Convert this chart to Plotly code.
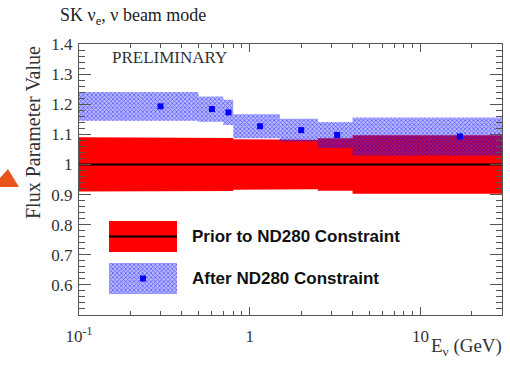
import plotly.graph_objects as go

# ---------------- data ----------------
bin_edges = [0.1, 0.5, 0.7, 0.8, 1.5, 2.5, 4.0, 30.0]          # E_nu (GeV)
prior_value = [1.0, 1.0, 1.0, 1.0, 1.0, 1.0, 1.0]
prior_err = [0.090, 0.090, 0.088, 0.084, 0.082, 0.087, 0.097]
post_value = [1.193, 1.184, 1.173, 1.127, 1.114, 1.098, 1.093]
post_err = [0.048, 0.042, 0.042, 0.040, 0.038, 0.043, 0.063]

y_tick_vals = [0.6, 0.7, 0.8, 0.9, 1.0, 1.1, 1.2, 1.3, 1.4]
y_tick_text = ["0.6", "0.7", "0.8", "0.9", "1", "1.1", "1.2", "1.3", "1.4"]
x_tick_vals = [0.1, 1, 10]
x_tick_text = ["10<sup>-1</sup>", "1", "10"]
x_minor_vals = [0.2, 0.3, 0.4, 0.5, 0.6, 0.7, 0.8, 0.9,
                2, 3, 4, 5, 6, 7, 8, 9, 20, 30]

legend_labels = ["Prior to ND280 Constraint", "After ND280 Constraint"]
title_text = "SK \u03bd<sub>e</sub>, \u03bd beam mode"

# ---------------- geometry helpers (styling) ----------------
W, H = 510, 369
ML, MR, MT, MB = 79, 8, 44, 54
PW, PH = W - ML - MR, H - MT - MB


def px(x):
    return (x - ML) / PW


def py(y):
    return (H - MB - y) / PH


def step_band(edges, centers, errs):
    xs, ys = [], []
    n = len(centers)
    for i in range(n):
        xs += [edges[i], edges[i + 1]]
        ys += [centers[i] + errs[i]] * 2
    for i in reversed(range(n)):
        xs += [edges[i + 1], edges[i]]
        ys += [centers[i] - errs[i]] * 2
    xs.append(xs[0])
    ys.append(ys[0])
    return xs, ys


SERIF = "Liberation Serif, Times New Roman, serif"
SANS = "Liberation Sans, Arial, sans-serif"
AXC = "#555555"
HATCH = dict(shape="x", fgcolor="#0000ff", bgcolor="rgba(40,40,255,0.33)",
             size=3, solidity=0.45)

fig = go.Figure()

# prior band
bx, by = step_band(bin_edges, prior_value, prior_err)
fig.add_trace(go.Scatter(x=bx, y=by, mode="lines", fill="toself",
                         fillcolor="#ff0000", line=dict(width=0),
                         hoverinfo="skip", showlegend=False))
# prior central line
fig.add_trace(go.Scatter(x=bin_edges, y=prior_value + [prior_value[-1]],
                         mode="lines", line=dict(color="black", width=2, shape="hv"),
                         showlegend=False))
# post band
ax_, ay_ = step_band(bin_edges, post_value, post_err)
fig.add_trace(go.Scatter(x=ax_, y=ay_, mode="lines", fill="toself",
                         fillcolor="rgba(40,40,255,0.33)", fillpattern=HATCH,
                         line=dict(width=0), hoverinfo="skip", showlegend=False))
# post points
centers = [(bin_edges[i] + bin_edges[i + 1]) / 2 for i in range(len(post_value))]
fig.add_trace(go.Scatter(x=centers, y=post_value, mode="markers",
                         marker=dict(symbol="square", size=6, color="#0000ff"),
                         showlegend=False))

# ---------------- manual legend (overlay axes in 0..1 plot units) ----------------
lx0, lx1 = px(109), px(177)
r_y0, r_y1 = py(252), py(221)
b_y0, b_y1 = py(294), py(263)
fig.add_trace(go.Scatter(x=[lx0, lx1, lx1, lx0, lx0], y=[r_y0, r_y0, r_y1, r_y1, r_y0],
                         xaxis="x2", yaxis="y2", mode="lines", fill="toself",
                         fillcolor="#ff0000", line=dict(width=0), showlegend=False,
                         hoverinfo="skip"))
fig.add_trace(go.Scatter(x=[lx0, lx1], y=[(r_y0 + r_y1) / 2] * 2, xaxis="x2", yaxis="y2",
                         mode="lines", line=dict(color="black", width=2),
                         showlegend=False, hoverinfo="skip"))
fig.add_trace(go.Scatter(x=[lx0, lx1, lx1, lx0, lx0], y=[b_y0, b_y0, b_y1, b_y1, b_y0],
                         xaxis="x2", yaxis="y2", mode="lines", fill="toself",
                         fillcolor="rgba(40,40,255,0.33)", fillpattern=HATCH,
                         line=dict(width=0), showlegend=False, hoverinfo="skip"))
fig.add_trace(go.Scatter(x=[(lx0 + lx1) / 2], y=[(b_y0 + b_y1) / 2], xaxis="x2", yaxis="y2",
                         mode="markers", marker=dict(symbol="square", size=6, color="#0000ff"),
                         showlegend=False, hoverinfo="skip"))

annotations = [
    dict(text="<b>" + legend_labels[0] + "</b>", x=px(190), y=(r_y0 + r_y1) / 2,
         xref="paper", yref="paper", xanchor="left", yanchor="middle", showarrow=False,
         font=dict(family=SANS, size=17, color="#111111")),
    dict(text="<b>" + legend_labels[1] + "</b>", x=px(190), y=(b_y0 + b_y1) / 2,
         xref="paper", yref="paper", xanchor="left", yanchor="middle", showarrow=False,
         font=dict(family=SANS, size=17, color="#111111")),
    dict(text="PRELIMINARY", x=px(110), y=py(58), xref="paper", yref="paper",
         xanchor="left", yanchor="middle", showarrow=False,
         font=dict(family=SERIF, size=17, color="#333333")),
    dict(text=title_text, x=px(58), y=py(16), xref="paper", yref="paper",
         xanchor="left", yanchor="middle", showarrow=False,
         font=dict(family=SERIF, size=18, color="#222222")),
    dict(text="Flux Parameter Value", x=px(33), y=py(133), xref="paper", yref="paper",
         xanchor="center", yanchor="middle", textangle=-90, showarrow=False,
         font=dict(family=SERIF, size=20, color="#333333")),
    dict(text="E<sub>\u03bd</sub> (GeV)", x=px(504), y=py(347), xref="paper", yref="paper",
         xanchor="right", yanchor="middle", showarrow=False,
         font=dict(family=SERIF, size=19, color="#333333")),
]

# decorative orange triangle at left edge of slide
tri = [(0, 187), (19, 187), (8, 169), (0, 178)]
path = "M " + " L ".join(f"{px(a):.4f},{py(b):.4f}" for a, b in tri) + " Z"
shapes = [dict(type="path", path=path, xref="paper", yref="paper",
               fillcolor="#e8561e", line=dict(width=0), layer="above")]

fig.update_layout(
    width=W, height=H,
    margin=dict(l=ML, r=MR, t=MT, b=MB, pad=0),
    paper_bgcolor="white", plot_bgcolor="white",
    showlegend=False,
    annotations=annotations,
    shapes=shapes,
    xaxis=dict(type="log", range=[-1, 1.4771], tickmode="array",
               tickvals=x_tick_vals, ticktext=x_tick_text,
               ticks="inside", ticklen=8, tickcolor=AXC, tickwidth=1,
               showline=True, linecolor=AXC, linewidth=1, mirror="ticks",
               showgrid=False, zeroline=False, ticklabelstandoff=6,
               tickfont=dict(family=SERIF, size=17, color="#333333"),
               minor=dict(tickmode="array", tickvals=x_minor_vals, ticks="inside",
                          ticklen=4, tickcolor=AXC, showgrid=False)),
    yaxis=dict(range=[0.5, 1.4], tickmode="array",
               tickvals=y_tick_vals, ticktext=y_tick_text,
               ticks="inside", ticklen=12, tickcolor=AXC, tickwidth=1,
               showline=True, linecolor=AXC, linewidth=1, mirror="ticks",
               showgrid=False, zeroline=False, ticklabelstandoff=2,
               tickfont=dict(family=SERIF, size=17, color="#333333"),
               minor=dict(dtick=0.02, tick0=0.5, ticks="inside", ticklen=6,
                          tickcolor=AXC, showgrid=False)),
    xaxis2=dict(overlaying="x", range=[0, 1], visible=False, anchor="y2"),
    yaxis2=dict(overlaying="y", range=[0, 1], visible=False, anchor="x2"),
)

fig.write_html("out.html",
               config={"displayModeBar": False, "staticPlot": True},
               post_script="document.body.style.margin='0px';"
                           "document.body.style.padding='0px';")
